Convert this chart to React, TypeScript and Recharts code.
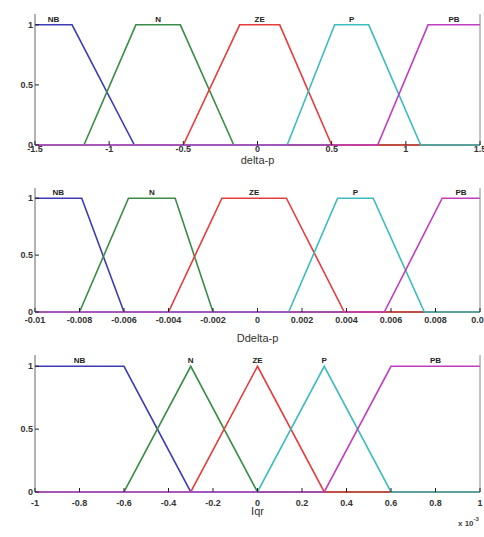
import React from "react";
import { LineChart, Line, XAxis, YAxis, ReferenceDot } from "recharts";

// membership function parameters: [a, b, c, d] trapezoids, [a, b, c] triangles
const MF_NAMES = ["NB", "N", "ZE", "P", "PB"];
const MF_COLORS = ["#3c3cb4", "#3a8c46", "#e63c3c", "#3cbcbc", "#c03cc0"];

const dpRange = [-1.5, 1.5];
const dpTicks = [-1.5, -1, -0.5, 0, 0.5, 1, 1.5];
const dpNB = [-1.5, -1.5, -1.25, -0.83];
const dpN = [-1.17, -0.82, -0.52, -0.16];
const dpZE = [-0.5, -0.12, 0.15, 0.5];
const dpP = [0.2, 0.52, 0.75, 1.1];
const dpPB = [0.81, 1.15, 1.5, 1.5];

const ddpRange = [-0.01, 0.01];
const ddpTicks = [-0.01, -0.008, -0.006, -0.004, -0.002, 0, 0.002, 0.004, 0.006, 0.008, 0.01];
const ddpNB = [-0.01, -0.01, -0.0079, -0.006];
const ddpN = [-0.008, -0.0058, -0.0037, -0.002];
const ddpZE = [-0.004, -0.0016, 0.0013, 0.0039];
const ddpP = [0.0014, 0.0036, 0.0052, 0.0075];
const ddpPB = [0.0057, 0.0083, 0.01, 0.01];

// Iqr values in units of 1e-3
const iqRange = [-1, 1];
const iqTicks = [-1, -0.8, -0.6, -0.4, -0.2, 0, 0.2, 0.4, 0.6, 0.8, 1];
const iqNB = [-1, -1, -0.6, -0.3];
const iqN = [-0.6, -0.3, 0];
const iqZE = [-0.3, 0, 0.3];
const iqP = [0, 0.3, 0.6];
const iqPB = [0.3, 0.6, 1, 1];

const yTicks = [0, 0.5, 1];
const Y_MAX = 1.09;
const FONT = "'Liberation Sans', Arial, sans-serif";

const mfPoints = (p: number[], lo: number, hi: number) => {
  const [a, b, c, d] = p.length === 3 ? [p[0], p[1], p[1], p[2]] : p;
  const pts: { x: number; y: number }[] = [];
  if (b <= lo) {
    pts.push({ x: lo, y: 1 });
  } else {
    pts.push({ x: lo, y: 0 });
    if (a > lo) pts.push({ x: a, y: 0 });
    pts.push({ x: b, y: 1 });
  }
  if (c >= hi) {
    pts.push({ x: hi, y: 1 });
  } else {
    pts.push({ x: c, y: 1 });
    pts.push({ x: d, y: 0 });
    if (d < hi) pts.push({ x: hi, y: 0 });
  }
  return pts;
};

const plateauCenter = (p: number[]) => (p.length === 3 ? p[1] : (p[1] + p[2]) / 2);

const fmtTick = (v: number) => (v === 0 ? "0" : String(Math.round(v * 100000) / 100000));

interface PanelProps {
  top: number;
  height: number;
  marginTop: number;
  axisHeight: number;
  range: number[];
  ticks: number[];
  mfs: number[][];
  title: string;
  tickDy: number;
  titleOffset: number;
}

const MfPanel: React.FC<PanelProps> = ({ top, height, marginTop, axisHeight, range, ticks, mfs, title, tickDy, titleOffset }) => {
  const [lo, hi] = range;

  const bottomTick = (props: any) => {
    const { x, y, payload } = props;
    return (
      <g>
        <line x1={x} y1={y} x2={x} y2={y - 4} stroke="#222" />
        <text x={x} y={y + tickDy} textAnchor="middle" fontSize={9} fontWeight="bold" fill="#333" fontFamily={FONT}>
          {fmtTick(payload.value)}
        </text>
      </g>
    );
  };
  const topTick = (props: any) => {
    const { x, y } = props;
    return <line x1={x} y1={y} x2={x} y2={y + 4} stroke="#222" />;
  };
  const leftTick = (props: any) => {
    const { x, y, payload } = props;
    return (
      <g>
        <line x1={x} y1={y} x2={x + 4} y2={y} stroke="#222" />
        <text x={x - 2} y={y + 3} textAnchor="end" fontSize={9} fontWeight="bold" fill="#333" fontFamily={FONT}>
          {payload.value}
        </text>
      </g>
    );
  };
  const rightTick = (props: any) => {
    const { x, y } = props;
    return <line x1={x} y1={y} x2={x - 4} y2={y} stroke="#222" />;
  };

  return (
    <div style={{ position: "absolute", left: 0, top, width: 484, height }}>
      <LineChart width={484} height={height} margin={{ top: marginTop, right: 0, left: 0, bottom: 0 }}>
        <XAxis
          dataKey="x"
          type="number"
          domain={range}
          ticks={ticks}
          interval={0}
          tickSize={0}
          tickMargin={0}
          tickLine={false}
          tick={bottomTick}
          height={axisHeight}
          axisLine={false}
          label={{ value: title, position: "insideBottom", offset: titleOffset, fontSize: 11, fill: "#333", fontFamily: FONT }}
        />
        <XAxis
          xAxisId="top"
          orientation="top"
          dataKey="x"
          type="number"
          domain={range}
          ticks={ticks}
          interval={0}
          tickSize={0}
          tickMargin={0}
          tickLine={false}
          tick={topTick}
          height={0}
          axisLine={{ stroke: "#111", strokeWidth: 1.5 }}
        />
        <YAxis
          type="number"
          domain={[0, Y_MAX]}
          ticks={yTicks}
          interval={0}
          width={35}
          tickSize={0}
          tickMargin={0}
          tickLine={false}
          tick={leftTick}
          axisLine={{ stroke: "#666" }}
        />
        <YAxis
          yAxisId="right"
          orientation="right"
          type="number"
          domain={[0, Y_MAX]}
          ticks={yTicks}
          interval={0}
          width={4}
          tickSize={0}
          tickMargin={0}
          tickLine={false}
          tick={rightTick}
          axisLine={{ stroke: "#888" }}
        />
        {mfs.map((p, i) => (
          <Line
            key={MF_NAMES[i]}
            data={mfPoints(p, lo, hi)}
            dataKey="y"
            type="linear"
            stroke={MF_COLORS[i]}
            strokeWidth={1.6}
            dot={false}
            isAnimationActive={false}
          />
        ))}
        {mfs.map((p, i) => (
          <ReferenceDot
            key={"lbl" + MF_NAMES[i]}
            x={plateauCenter(p)}
            y={1.05}
            r={0}
            stroke="none"
            fill="none"
            ifOverflow="visible"
            label={{ value: MF_NAMES[i], position: "center", fontSize: 8, fontWeight: "bold", fill: "#222", fontFamily: FONT }}
          />
        ))}
      </LineChart>
    </div>
  );
};

const App: React.FC = () => {
  return (
    <div style={{ position: "absolute", left: 0, top: 0, width: 484, height: 537, background: "#fff", overflow: "hidden" }}>
      <MfPanel
        top={0}
        height={175}
        marginTop={14}
        axisHeight={30}
        range={dpRange}
        ticks={dpTicks}
        mfs={[dpNB, dpN, dpZE, dpP, dpPB]}
        title="delta-p"
        tickDy={7}
        titleOffset={11}
      />
      <MfPanel
        top={175}
        height={175}
        marginTop={13}
        axisHeight={38}
        range={ddpRange}
        ticks={ddpTicks}
        mfs={[ddpNB, ddpN, ddpZE, ddpP, ddpPB]}
        title="Ddelta-p"
        tickDy={11}
        titleOffset={8}
      />
      <MfPanel
        top={350}
        height={187}
        marginTop={5}
        axisHeight={45}
        range={iqRange}
        ticks={iqTicks}
        mfs={[iqNB, iqN, iqZE, iqP, iqPB]}
        title="Iqr"
        tickDy={14}
        titleOffset={22}
      />
      <svg width={484} height={537} style={{ position: "absolute", left: 0, top: 0, pointerEvents: "none" }}>
        <text x={458} y={526} fontSize={8} fontWeight="bold" fill="#444" fontFamily={FONT}>
          x 10
          <tspan dy={-5} fontSize={6}>-3</tspan>
        </text>
      </svg>
    </div>
  );
};

export default App;
